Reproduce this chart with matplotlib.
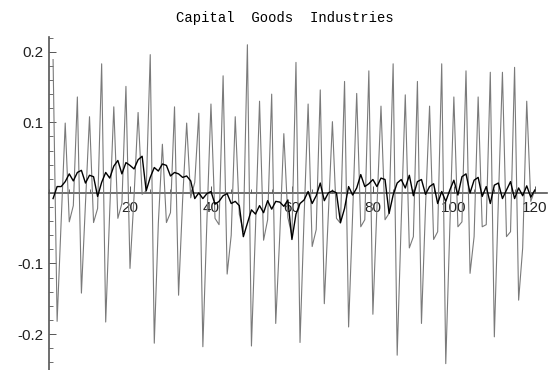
import numpy as np
import matplotlib
matplotlib.use("Agg")
import matplotlib.pyplot as plt
from matplotlib.ticker import MultipleLocator, FixedLocator

# monthly changes, capital goods industries (t = 1..120)
raw_changes = [
    0.189, -0.182, -0.040, 0.099, -0.041, -0.018, 0.136, -0.142, -0.015, 0.108,
    -0.042, -0.022, 0.183, -0.183, -0.025, 0.122, -0.036, -0.015, 0.151, -0.107,
    -0.005, 0.114, -0.002, 0.003, 0.196, -0.213, -0.043, 0.069, -0.042, -0.028,
    0.122, -0.145, -0.010, 0.099, -0.007, 0.015, 0.113, -0.218, -0.040, 0.126,
    -0.036, -0.045, 0.166, -0.115, -0.060, 0.108, -0.030, -0.055, 0.210, -0.217,
    -0.050, 0.130, -0.067, -0.038, 0.140, -0.185, -0.060, 0.084, -0.035, -0.060,
    0.185, -0.212, -0.035, 0.126, -0.076, -0.052, 0.146, -0.157, -0.030, 0.101,
    -0.036, -0.043, 0.158, -0.190, -0.030, 0.141, -0.048, -0.038, 0.173, -0.172,
    -0.020, 0.123, -0.038, -0.029, 0.183, -0.230, -0.040, 0.139, -0.078, -0.062,
    0.158, -0.185, -0.020, 0.123, -0.066, -0.055, 0.183, -0.242, -0.050, 0.136,
    -0.048, -0.041, 0.173, -0.114, -0.062, 0.136, -0.048, -0.045, 0.171, -0.204,
    -0.010, 0.171, -0.062, -0.055, 0.178, -0.152, -0.078, 0.130, -0.012, 0.004,
]

# seasonally adjusted changes
adjusted = [
    -0.008, 0.009, 0.009, 0.016, 0.027, 0.017, 0.029, 0.032, 0.014, 0.025,
    0.023, -0.005, 0.015, 0.029, 0.021, 0.038, 0.046, 0.027, 0.043, 0.039,
    0.034, 0.047, 0.052, 0.003, 0.022, 0.036, 0.031, 0.041, 0.039, 0.024,
    0.029, 0.027, 0.022, 0.024, 0.017, -0.008, 0.000, -0.008, -0.001, 0.002,
    -0.016, -0.012, -0.004, -0.001, -0.015, -0.012, -0.018, -0.062, -0.043, -0.024,
    -0.030, -0.018, -0.028, -0.011, -0.023, -0.012, -0.013, -0.019, -0.010, -0.066,
    -0.030, -0.015, -0.010, 0.002, -0.015, -0.004, 0.014, -0.011, 0.000, 0.003,
    0.000, -0.042, -0.022, 0.009, -0.003, 0.007, 0.026, 0.009, 0.013, 0.019,
    0.009, 0.021, 0.019, -0.029, -0.003, 0.014, 0.019, 0.007, 0.025, -0.004,
    0.016, 0.019, -0.002, 0.009, 0.013, -0.015, 0.002, -0.012, 0.004, 0.018,
    -0.003, 0.023, 0.027, 0.000, 0.018, 0.022, -0.005, 0.009, -0.015, 0.011,
    0.014, -0.008, 0.004, 0.016, -0.008, 0.007, -0.004, 0.010, -0.006, 0.004,
]

x_ticks = [20, 40, 60, 80, 100, 120]
y_ticks = [-0.2, -0.1, 0.1, 0.2]
y_labels = ["-0.2", "-0.1", "0.1", "0.2"]

plt.rcParams["axes.unicode_minus"] = False

fig = plt.figure(figsize=(5.49, 3.70), dpi=100)
ax = fig.add_axes([0.0893, 0.0, 0.907, 0.90])

ax.plot(np.arange(1, len(raw_changes) + 1), raw_changes, color="#7a7a7a", lw=0.8)
ax.plot(np.arange(1, len(adjusted) + 1), adjusted, color="black", lw=1.0)

ax.set_xlim(0, 123)
ax.set_ylim(-0.251, 0.221)

# axes cross at the origin, no frame
for side in ("top", "right"):
    ax.spines[side].set_visible(False)
ax.spines["left"].set_position(("data", 0))
ax.spines["bottom"].set_position(("data", 0))
for side in ("left", "bottom"):
    ax.spines[side].set_color("#555555")
    ax.spines[side].set_linewidth(1.2)
    ax.spines[side].set_zorder(0.5)

ax.xaxis.set_major_locator(FixedLocator(x_ticks))
ax.xaxis.set_minor_locator(MultipleLocator(5))
ax.yaxis.set_major_locator(FixedLocator(y_ticks))
ax.yaxis.set_minor_locator(MultipleLocator(0.02))
ax.set_xticklabels([str(v) for v in x_ticks])
ax.set_yticklabels(y_labels)

ax.tick_params(axis="both", which="major", direction="in", length=5,
               width=0.7, color="#555555", labelsize=11)
ax.tick_params(axis="both", which="minor", direction="in", length=3,
               width=0.6, color="#555555")
ax.tick_params(axis="x", which="major", pad=6)
ax.tick_params(axis="y", which="major", pad=4)
for lbl in ax.get_xticklabels() + ax.get_yticklabels():
    lbl.set_fontfamily("Liberation Sans")
    lbl.set_color("#222222")
for lbl in ax.get_xticklabels():
    lbl.set_zorder(0.4)

fig.text(0.519, 1 - 18 / 370, "Capital  Goods  Industries",
         family="Liberation Mono", fontsize=10, ha="center", va="center")

fig.savefig("out.png", dpi=100)
